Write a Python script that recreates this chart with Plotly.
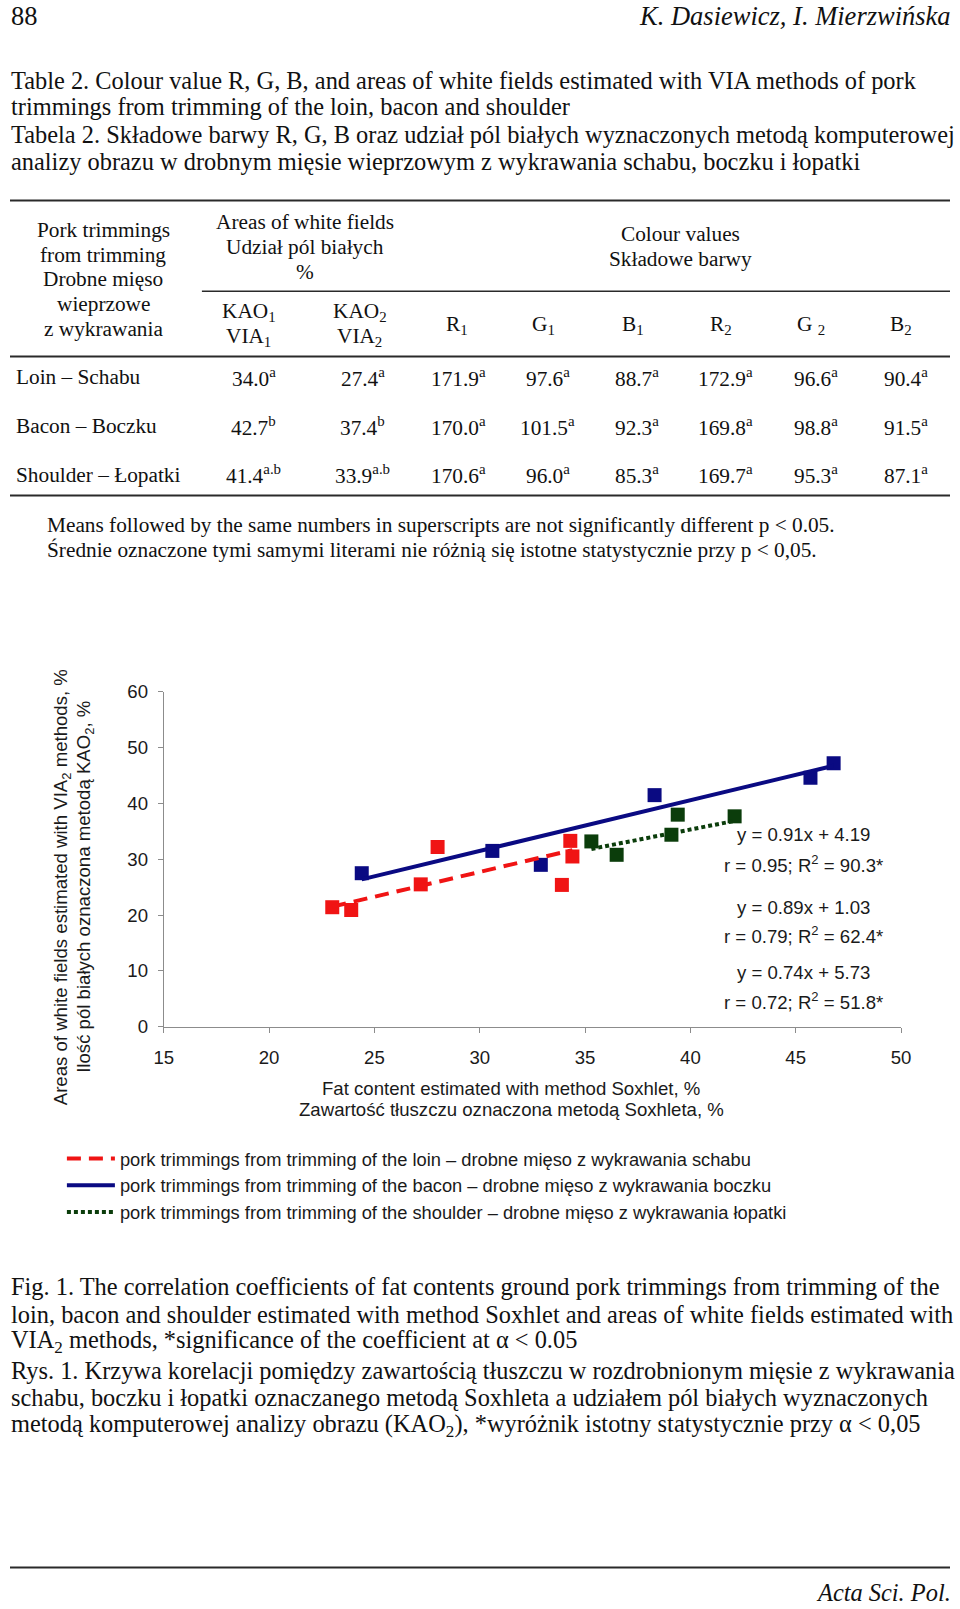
import plotly.graph_objects as go

# ---------------- data ----------------
loin_x = [23.0, 23.9, 27.2, 28.0, 33.9, 34.3, 34.4]
loin_y = [21.4, 20.9, 25.5, 32.2, 25.4, 33.3, 30.5]
bacon_x = [24.4, 30.6, 32.9, 38.3, 45.7, 46.8]
bacon_y = [27.5, 31.5, 29.0, 41.5, 44.6, 47.2]
shoulder_x = [35.3, 36.5, 39.1, 39.4, 42.1]
shoulder_y = [33.2, 30.8, 34.4, 38.0, 37.7]

# regression coefficients (slope, intercept) printed on the chart
bacon_fit = (0.91, 4.19)
loin_fit = (0.89, 1.03)
shoulder_fit = (0.74, 5.73)

eq_labels = ["y = 0.91x + 4.19", "r = 0.95; R<sup>2</sup> = 90.3*",
             "y = 0.89x + 1.03", "r = 0.79; R<sup>2</sup> = 62.4*",
             "y = 0.74x + 5.73", "r = 0.72; R<sup>2</sup> = 51.8*"]

legend_names = [
    "pork trimmings from trimming of the loin – drobne mięso z wykrawania schabu",
    "pork trimmings from trimming of the bacon – drobne mięso z wykrawania boczku",
    "pork trimmings from trimming of the shoulder – drobne mięso z wykrawania łopatki",
]

x_ticks = [15, 20, 25, 30, 35, 40, 45, 50]
y_ticks = [0, 10, 20, 30, 40, 50, 60]

# table
row_labels = ["Loin – Schabu", "Bacon – Boczku", "Shoulder – Łopatki"]
col_headers = ["KAO<sub>1</sub><br>VIA<sub>1</sub>", "KAO<sub>2</sub><br>VIA<sub>2</sub>",
               "R<sub>1</sub>", "G<sub>1</sub>", "B<sub>1</sub>",
               "R<sub>2</sub>", "G <sub>2</sub>", "B<sub>2</sub>"]
kao1 = [34.0, 42.7, 41.4]
kao1_sig = ["a", "b", "a.b"]
kao2 = [27.4, 37.4, 33.9]
kao2_sig = ["a", "b", "a.b"]
r1 = [171.9, 170.0, 170.6]
g1 = [97.6, 101.5, 96.0]
b1 = [88.7, 92.3, 85.3]
r2 = [172.9, 169.8, 169.7]
g2 = [96.6, 98.8, 95.3]
b2 = [90.4, 91.5, 87.1]
colour_sig = ["a", "a", "a"]

title_lines = [
    "Table 2. Colour value R, G, B, and areas of white fields estimated with VIA methods of pork",
    "trimmings from trimming of the loin, bacon and shoulder",
    "Tabela 2. Składowe barwy R, G, B oraz udział pól białych wyznaczonych metodą komputerowej",
    "analizy obrazu w drobnym mięsie wieprzowym z wykrawania schabu, boczku i łopatki",
]
note_lines = [
    "Means followed by the same numbers in superscripts are not significantly different p &lt; 0.05.",
    "Średnie oznaczone tymi samymi literami nie różnią się istotne statystycznie przy p &lt; 0,05.",
]
caption_lines = [
    "Fig. 1. The correlation coefficients of fat contents ground pork trimmings from trimming of the",
    "loin, bacon and shoulder estimated with method Soxhlet and areas of white fields estimated with",
    "VIA<sub>2</sub> methods, *significance of the coefficient at α &lt; 0.05",
    "Rys. 1. Krzywa korelacji pomiędzy zawartością tłuszczu w rozdrobnionym mięsie z wykrawania",
    "schabu, boczku i łopatki oznaczanego metodą Soxhleta a udziałem pól białych wyznaczonych",
    "metodą komputerowej analizy obrazu (KAO<sub>2</sub>), *wyróżnik istotny statystycznie przy α &lt; 0,05",
]

# ---------------- helpers ----------------
W, H = 960, 1609
SERIF = "Liberation Serif, Times New Roman, serif"
SANS = "Liberation Sans, Arial, sans-serif"
INK = "#111111"
CHART_INK = "#1a1a1a"
BODY = 24.4
TAB = 21.3
CH = 18.6


def px(x):
    return x / W


def py(y):
    return 1 - y / H


annotations = []
shapes = []


def txt(x, y, text, size, family=SERIF, anchor="left", italic=False, angle=0, color=INK):
    annotations.append(dict(
        x=px(x), y=py(y), xref="paper", yref="paper", text=text, showarrow=False,
        xanchor=anchor, yanchor="middle", textangle=angle, borderpad=0,
        font=dict(size=size, family=family, color=color, style="italic" if italic else "normal"),
    ))


def rule(x0, x1, y, w=2):
    shapes.append(dict(type="line", xref="paper", yref="paper",
                       x0=px(x0), x1=px(x1), y0=py(y), y1=py(y),
                       line=dict(color="#2a2a2a", width=w)))


def fit_line(xs, fit):
    lo, hi = min(xs), max(xs)
    return [lo, hi], [fit[0] * lo + fit[1], fit[0] * hi + fit[1]]


# ---------------- page header ----------------
txt(0, 6, "88", 26.5)
txt(962, 6, "K. Dasiewicz, I. Mierzwińska", 26.5, anchor="right", italic=True)

title_y = [71, 98, 126, 153]
for yy, line in zip(title_y, title_lines):
    txt(0, yy, line, BODY)

# ---------------- table ----------------
rule(0, 960, 193, 2)
rule(196, 960, 285, 1.5)
rule(0, 960, 351, 2)
rule(0, 960, 492, 2)

for i, line in enumerate(["Pork trimmings", "from trimming", "Drobne mięso", "wieprzowe", "z wykrawania"]):
    txt(95, 223 + i * 25, line, TAB, anchor="center")
for i, line in enumerate(["Areas of white fields", "Udział pól białych", "%"]):
    txt(301, 215 + i * 25, line, TAB, anchor="center")
for i, line in enumerate(["Colour values", "Składowe barwy"]):
    txt(685, 227 + i * 25, line, TAB, anchor="center")

head_x = [244, 357, 456, 545, 636, 726, 818, 910]
val_x = [249, 360, 458, 549, 640, 731, 823, 915]
for cx, head in zip(head_x, col_headers):
    if "<br>" in head:
        a, b = head.split("<br>")
        txt(cx, 306, a, TAB, anchor="center")
        txt(cx, 331, b, TAB, anchor="center")
    else:
        txt(cx, 319, head, TAB, anchor="center")

columns = [(kao1, kao1_sig), (kao2, kao2_sig), (r1, colour_sig), (g1, colour_sig),
           (b1, colour_sig), (r2, colour_sig), (g2, colour_sig), (b2, colour_sig)]
row_y = [372, 422, 471]
for ri, label in enumerate(row_labels):
    txt(5.5, row_y[ri], label, TAB)
    for cx, (vals, sig) in zip(val_x, columns):
        txt(cx, row_y[ri], f"{vals[ri]:.1f}<sup>{sig[ri]}</sup>", TAB, anchor="center")

for i, line in enumerate(note_lines):
    txt(37, 522 + i * 25, line, TAB)

# ---------------- chart ----------------
fig = go.Figure()

series = [
    (loin_x, loin_y, loin_fit, "#f01414", dict(dash="14px,8px", width=4), legend_names[0]),
    (bacon_x, bacon_y, bacon_fit, "#0a0a82", dict(dash="solid", width=4), legend_names[1]),
    (shoulder_x, shoulder_y, shoulder_fit, "#0b3d0b", dict(dash="4px,3px", width=4), legend_names[2]),
]

for xs, ys, fit, col, ls, name in series:
    fig.add_trace(go.Scatter(x=xs, y=ys, mode="markers", showlegend=False,
                             marker=dict(symbol="square", size=14, color=col,
                                         line=dict(width=0))))

for gi, (xs, ys, fit, col, ls, name) in enumerate(series):
    lx, ly = fit_line(xs, fit)
    fig.add_trace(go.Scatter(x=lx, y=ly, mode="lines", name=name, legendgroup=f"g{gi}",
                             line=dict(color=col, **ls)))

eq_y = [835, 865, 909, 937, 975, 1004]
for yy, lab in zip(eq_y, eq_labels):
    txt(810, yy, lab, CH, family=SANS, anchor="center", color=CHART_INK)

txt(512, 1093, "Fat content estimated with method Soxhlet, %", CH, family=SANS, anchor="center", color=CHART_INK)
txt(512, 1114, "Zawartość tłuszczu oznaczona metodą Soxhleta, %", CH, family=SANS, anchor="center", color=CHART_INK)
txt(54, 889, "Areas of white fields estimated with VIA<sub>2</sub> methods, %", CH, family=SANS,
    anchor="center", angle=-90, color=CHART_INK)
txt(77, 888, "Ilość pól białych oznaczona metodą KAO<sub>2</sub>, %", CH, family=SANS,
    anchor="center", angle=-90, color=CHART_INK)

# ---------------- caption & footer ----------------
cap_y = [1293, 1322, 1349, 1378, 1406, 1434]
for yy, line in zip(cap_y, caption_lines):
    txt(0, yy, line, BODY)

rule(0, 960, 1578, 2)
txt(962, 1603, "Acta Sci. Pol.", BODY, anchor="right", italic=True)

axis_common = dict(showline=True, linecolor="#8c8c8c", linewidth=1, ticks="outside",
                   ticklen=5, tickcolor="#8c8c8c", showgrid=False, zeroline=False,
                   tickfont=dict(size=CH, family=SANS, color=CHART_INK))

fig.update_layout(
    width=W, height=H, margin=dict(l=0, r=0, t=0, b=0),
    paper_bgcolor="white", plot_bgcolor="white",
    xaxis=dict(domain=[px(157), px(910)], range=[15, 50], tickvals=x_ticks,
               ticklabelstandoff=9, anchor="y", **axis_common),
    yaxis=dict(domain=[py(1030), py(691)], range=[0, 60], tickvals=y_ticks,
               ticklabelstandoff=6, anchor="x", **axis_common),
    showlegend=True,
    legend=dict(x=px(53), y=py(1145), xanchor="left", yanchor="top",
                font=dict(size=18.3, family=SANS, color=CHART_INK),
                bgcolor="rgba(0,0,0,0)", borderwidth=0, tracegroupgap=0,
                traceorder="grouped", itemwidth=48),
    annotations=annotations, shapes=shapes,
)

fig.write_html(
    "out.html",
    config={"displayModeBar": False},
    post_script="document.body.style.margin='0';document.body.style.padding='0';"
                "document.documentElement.style.overflow='hidden';document.body.style.overflow='hidden';",
)
